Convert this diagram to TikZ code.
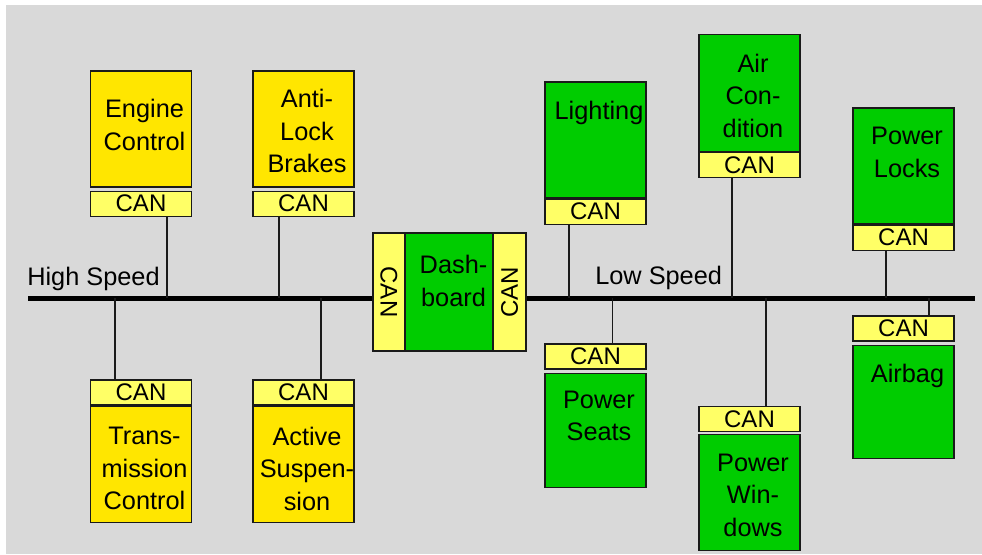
\documentclass[tikz,border=0pt]{standalone}
\usepackage{fontspec}
\setmainfont{Liberation Sans}
\usepackage{graphicx}
\usetikzlibrary{positioning,calc}
\definecolor{bgc}{HTML}{D9D9D9}
\definecolor{inkc}{HTML}{1A1A1A}
\definecolor{hic}{HTML}{FFE600}
\definecolor{loc}{HTML}{00CC00}
\definecolor{canc}{HTML}{FFFF66}
\newcommand{\lblfont}{\fontsize{19pt}{24.4pt}\selectfont}
\tikzset{
  ecu/.style  ={draw=inkc,line width=.9pt,minimum width=75.75pt,minimum height=87pt,inner sep=0pt},
  hiecu/.style={ecu,fill=hic},
  loecu/.style={ecu,fill=loc},
  can/.style  ={draw=inkc,line width=.9pt,fill=canc,minimum width=75.75pt,minimum height=18.75pt,
                inner sep=0pt,font=\fontsize{18pt}{18pt}\selectfont},
  txt/.style  ={align=center,inner sep=0pt,font=\lblfont},
  bus/.style  ={draw=black,line width=3.75pt},
  drop/.style ={draw=inkc,line width=.9pt},
}
\begin{document}
\begin{tikzpicture}[x=0.75pt,y=-0.75pt]

\fill[white] (0,0) rectangle (982,554);
\fill[bgc] (6,5) rectangle (982,554);

% ============================ high speed ================================
\node[hiecu] (eng) at (141,129) {};
\node[txt] (engL) at (144.5,125) {Engine\\Control};
\node[can,below=2.25pt of eng] (engcan) {CAN};

\node[hiecu] (abs) at (303.5,129) {};
\node[txt] (absL) at (307,131) {Anti-\\Lock\\Brakes};
\node[can,below=2.25pt of abs] (abscan) {CAN};

\node[can] (trmcan) at (141,392.5) {CAN};
\node[hiecu,below=0pt of trmcan] (trm) {};
\node[txt] (trmL) at (144.5,468.5) {Trans-\\mission\\Control};

\node[can] (suscan) at (303.5,392.5) {CAN};
\node[hiecu,below=0pt of suscan] (sus) {};
\node[txt] (susL) at (307,468.5) {Active\\Suspen-\\sion};

\node[txt,anchor=base west] (hsL) at (27,285) {High Speed};

% ============================ gateway ===================================
\node[can,minimum width=24pt,minimum height=88.5pt] (dcl) at (389,292) {\rotatebox{-90}{CAN}};
\node[loecu,minimum width=66pt,minimum height=88.5pt] (dash) at (449,292) {};
\node[can,minimum width=24.75pt,minimum height=88.5pt] (dcr) at (509.5,292) {\rotatebox{90}{CAN}};
\node[txt] (dashL) at (453.5,281) {Dash-\\board};

% ============================ low speed =================================
\node[loecu] (lgt) at (595.5,140) {};
\node[txt] (lgtL) at (599,112.5) {Lighting};
\node[can,below=0pt of lgt] (lgtcan) {CAN};

\node[can] (seatcan) at (595.5,356.5) {CAN};
\node[loecu,below=2.25pt of seatcan,minimum height=86pt] (seat) {};
\node[txt] (seatL) at (599,416) {Power\\Seats};

\node[loecu,minimum height=88pt] (air) at (749.5,93) {};
\node[txt] (airL) at (753,95.5) {Air\\Con-\\dition};
\node[can,below=0pt of air] (aircan) {CAN};

\node[can] (wincan) at (749.5,419) {CAN};
\node[loecu,below=1.5pt of wincan] (win) {};
\node[txt] (winL) at (753,495) {Power\\Win-\\dows};

\node[loecu] (lock) at (903.5,166) {};
\node[txt] (lockL) at (907,152.5) {Power\\Locks};
\node[can,below=0pt of lock] (lockcan) {CAN};

\node[can] (bagcan) at (903.5,328.5) {CAN};
\node[loecu,below=2.25pt of bagcan,minimum height=84.75pt] (bag) {};
\node[txt] (bagL) at (907.5,375.5) {Airbag};

\node[txt,anchor=base west] (lsL) at (595,284) {Low Speed};

% ============================ bus =======================================
\coordinate (hs) at (28,298);
\coordinate (ls) at (975,298);
\draw[bus] (hs) -- (hs -| dcl.west);
\draw[bus] (ls -| dcr.east) -- (ls);

\draw[drop] ($(engcan.south)+(26,0)$)   coordinate (d1) -- (d1 |- hs);
\draw[drop] ($(abscan.south)+(-24.5,0)$) coordinate (d2) -- (d2 |- hs);
\draw[drop] ($(trmcan.north)+(-26,0)$)  coordinate (d3) -- (d3 |- hs);
\draw[drop] ($(suscan.north)+(17.5,0)$) coordinate (d4) -- (d4 |- hs);
\draw[drop] ($(lgtcan.south)+(-26.5,0)$) coordinate (d5) -- (d5 |- ls);
\draw[drop] ($(seatcan.north)+(17,0)$)  coordinate (d6) -- (d6 |- ls);
\draw[drop] ($(aircan.south)+(-17.5,0)$) coordinate (d7) -- (d7 |- ls);
\draw[drop] ($(wincan.north)+(16.5,0)$) coordinate (d8) -- (d8 |- ls);
\draw[drop] ($(lockcan.south)+(-17.5,0)$) coordinate (d9) -- (d9 |- ls);
\draw[drop] ($(bagcan.north)+(25.5,0)$) coordinate (d10) -- (d10 |- ls);
\end{tikzpicture}
\end{document}
